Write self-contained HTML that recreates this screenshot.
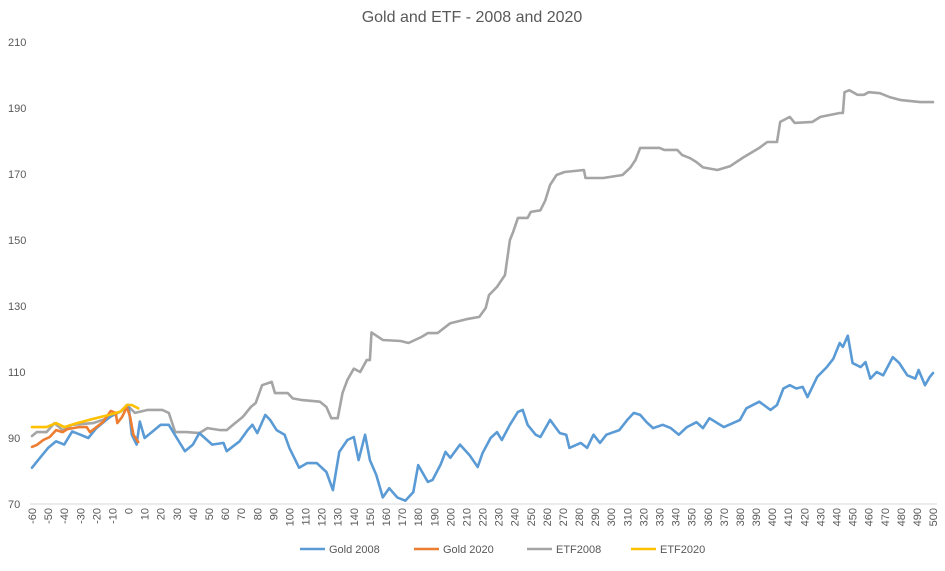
<!DOCTYPE html>
<html><head><meta charset="utf-8"><style>
html,body{margin:0;padding:0;background:#fff;}
body{width:945px;height:566px;overflow:hidden;font-family:"Liberation Sans",sans-serif;}
svg text{font-family:"Liberation Sans",sans-serif;fill:#595959;}
</style></head><body>
<svg id="chart" width="945" height="566" viewBox="0 0 945 566" xmlns="http://www.w3.org/2000/svg">
<text x="472" y="22" font-size="16" text-anchor="middle">Gold and ETF - 2008 and 2020</text>
<g id="yaxis"></g>
<g id="xaxis"></g>
<g id="series"></g>
<g id="legend"></g>
</svg>
<script>
const yTicks=[70,90,110,130,150,170,190,210];
const xTicks=[];for(let t=-60;t<=500;t+=10)xTicks.push(t);
const gold2008Days=[-60,-55,-50,-45,-40,-35,-30,-25,-20,-15,-10,-5,0,2,5,7,10,15,20,25,30,35,40,44,52,59,61,69,74,77,80,85,88,92,97,100,106,111,117,123,127,131,136,140,143,147,150,154,158,162,167,172,177,180,186,189,194,197,200,206,212,217,220,225,229,232,237,242,245,248,253,256,262,268,272,274,281,285,289,293,297,305,310,314,318,322,326,332,337,342,347,353,357,361,370,380,384,392,399,403,407,411,415,419,422,428,434,438,442,444,447,450,455,458,461,465,469,473,475,479,484,489,491,495,498,500];
const gold2008Vals=[81,84,87,89,88,92,91,90,93,95,97,98,100,91,88,95,90,92,94,94,90,86,88,91.5,88,88.5,86,89,92.4,94,91.5,97,95.5,92.4,91,87,81,82.4,82.4,79.7,74.2,85.8,89.4,90.3,83.3,91,83.3,78.8,72,74.8,72,71,73.6,81.8,76.7,77.3,82,85.8,84,88,84.8,81.2,85.4,90,91.8,89.4,94,97.9,98.5,94,91,90.3,95.5,91.5,91,87,88.5,87,91,88.5,91,92.4,95.5,97.6,97,94.8,93,94,93,91,93.3,94.8,93,96,93.3,95.5,99,101,98.5,100,105,106,105,105.5,102.4,108.5,111.5,114,118.8,117.6,121,112.7,111.5,113,108,110,109,112.7,114.5,112.7,109,108,110.6,106,108.5,109.7];
const etf2008Days=[-60,-57,-51,-46,-41,-35,-22,-13,-5,-1,4,12,21,25,29,36,44,49,57,61,65,71,76,79,83,89,91,99,102,108,119,123,126,130,133,136,140,144,148,150,151,158,169,174,182,186,192,200,210,218,222,224,229,234,237,239,242,248,250,256,259,262,266,271,283,284,295,307,312,315,318,330,333,341,344,349,353,357,366,374,382,392,397,403,405,411,414,425,430,442,444,445,448,453,457,460,467,473,480,492,500];
const etf2008Vals=[90.6,91.8,91.8,94.5,92.4,94,94.5,96,98,100,97.6,98.5,98.5,97.6,91.8,91.8,91.5,93,92.4,92.4,94,96.4,99.4,100.6,106,107,103.6,103.6,102,101.5,101,99.4,96,96,103.6,107.6,111,110,113.6,113.6,122,119.7,119.4,118.8,120.6,121.8,121.8,124.8,126,126.7,129.4,133.3,135.8,139.4,150,152.4,156.7,156.7,158.5,159,162,166.7,169.7,170.6,171.2,168.8,168.8,169.7,172,174.2,177.9,177.9,177.3,177.3,175.8,174.8,173.6,172,171.2,172.4,175,177.9,179.7,179.7,185.8,187.3,185.5,185.8,187.3,188.5,188.5,194.8,195.4,194,194,194.8,194.5,193.3,192.4,191.8,191.8];
const gold2020Days=[-60,-57,-53,-49,-45,-41,-38,-31,-26,-24,-20,-16,-11,-8,-7,-4,-1,1,3,6];
const gold2020Vals=[87.3,87.9,89.4,90.3,92.4,91.8,92.7,93.3,93.3,91.8,93.3,94.8,98.2,97.6,94.5,96.4,99.4,96.4,91,88.8];
const etf2020Days=[-60,-51,-45,-40,-32,-22,-12,-5,-1,2,6];
const etf2020Vals=[93.3,93.3,94.5,93.3,94.5,95.8,97,98,100,100,99];

const X0=32,XS=1.609,Y0=504,YS=3.3;
const xScale=v=>X0+(v+60)*XS;
const yScale=v=>Y0-(v-70)*YS;
const NS='http://www.w3.org/2000/svg';
function mk(tag,attrs,parent){const e=document.createElementNS(NS,tag);for(const k in attrs)e.setAttribute(k,attrs[k]);parent.appendChild(e);return e;}

const ya=document.getElementById('yaxis');
yTicks.forEach(t=>{const e=mk('text',{x:8,y:yScale(t)+4,'font-size':11},ya);e.textContent=t;

});
const xa=document.getElementById('xaxis');
const ax=mk('line',{x1:30,x2:937,y1:Y0,y2:Y0,stroke:'#d9d9d9','stroke-width':1},xa);


xTicks.forEach(t=>{const x=xScale(t)+4,y=508;const e=mk('text',{x:x,y:y,'font-size':11,'text-anchor':'end',transform:`rotate(-90 ${x} ${y})`},xa);e.textContent=t;

});

const sg=document.getElementById('series');
function line(days,vals,color,name){const d=days.map((v,i)=>(i?'L':'M')+xScale(v).toFixed(1)+' '+yScale(vals[i]).toFixed(1)).join(' ');
const p=mk('path',{d:d,fill:'none',stroke:color,'stroke-width':2.6,'stroke-linejoin':'round','stroke-linecap':'round'},sg);

}
line(etf2008Days,etf2008Vals,'#a5a5a5','etf2008-line');
line(gold2008Days,gold2008Vals,'#5b9bd5','gold-2008-line');
line(gold2020Days,gold2020Vals,'#ed7d31','gold-2020-line');
line(etf2020Days,etf2020Vals,'#ffc000','etf2020-line');

const lg=document.getElementById('legend');
const items=[['Gold 2008','#5b9bd5',300],['Gold 2020','#ed7d31',414],['ETF2008','#a5a5a5',527],['ETF2020','#ffc000',631]];
items.forEach(([t,c,x])=>{const g=mk('g',{},lg);


mk('line',{x1:x,x2:x+25,y1:549,y2:549,stroke:c,'stroke-width':2.6},g);
const e=mk('text',{x:x+29,y:553,'font-size':11},g);e.textContent=t;});
</script>
</body></html>
